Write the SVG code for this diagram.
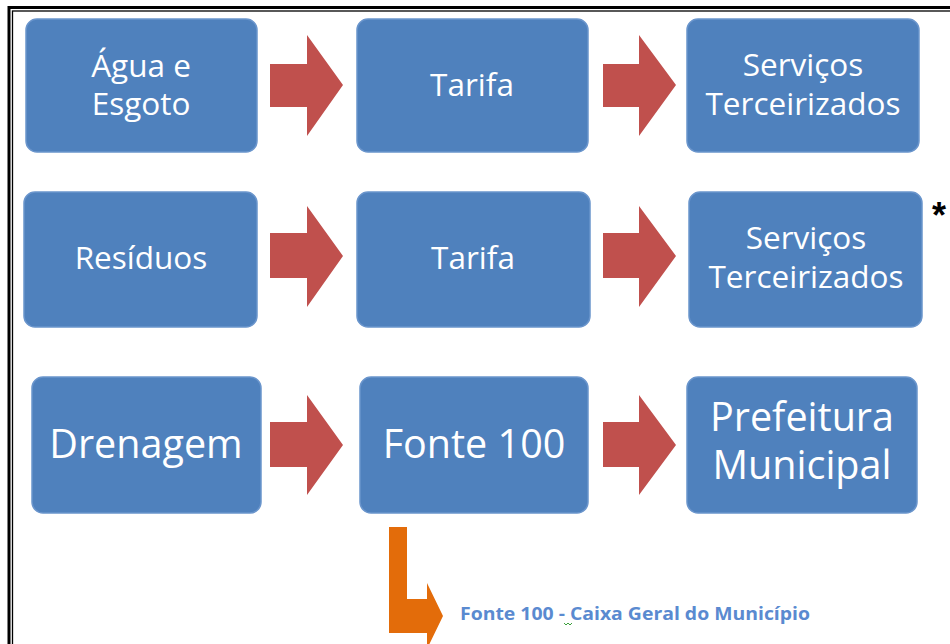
<svg xmlns="http://www.w3.org/2000/svg" width="950" height="644" viewBox="0 0 950 644">
<style>
.box{fill:#4F81BD;stroke:#6A95CC;stroke-width:1.5}
.t{font-family:"Open Sans","Liberation Sans",sans-serif;fill:#FFFFFF;text-anchor:middle}
.m{font-size:31.5px}
.l{font-size:39.5px}
.red{fill:#C0504D}
</style>
<rect x="0" y="0" width="950" height="644" fill="#FFFFFF"/>
<rect x="9" y="7.5" width="960" height="660" fill="none" stroke="#000" stroke-width="3"/>
<rect x="12.5" y="11" width="960" height="660" fill="none" stroke="#000" stroke-width="1.3"/>
<g id="connectors">
<polygon class="red" points="270,64 307,64 307,35 343,85 307,136 307,107 270,107"/>
<polygon class="red" points="603,64 639,64 639,35 676,85 639,136 639,107 603,107"/>
<polygon class="red" points="270,233 307,233 307,206 343,256 307,307 307,278 270,278"/>
<polygon class="red" points="603,233 639,233 639,206 676,256 639,307 639,278 603,278"/>
<polygon class="red" points="270,422 307,422 307,395 343,445 307,495 307,467 270,467"/>
<polygon class="red" points="603,422 639,422 639,395 676,445 639,495 639,467 603,467"/>
<polygon fill="#E36C0A" points="389,527 407,527 407,599 427,599 427,583 443,616 427,649 427,633 389,633"/>
</g>
<g id="agua">
<rect class="box" x="26" y="19" width="231" height="133" rx="11"/>
<text class="t m" x="141" y="77">Água e</text>
<text class="t m" x="141" y="115">Esgoto</text>
</g>
<g id="tarifa1">
<rect class="box" x="357" y="19" width="231" height="133" rx="11"/>
<text class="t m" x="472" y="96">Tarifa</text>
</g>
<g id="servicos1">
<rect class="box" x="687" y="19" width="232" height="133" rx="11"/>
<text class="t m" x="803" y="76">Serviços</text>
<text class="t m" x="803" y="115">Terceirizados</text>
</g>
<g id="residuos">
<rect class="box" x="24" y="192" width="233" height="135" rx="11"/>
<text class="t m" x="141" y="269">Resíduos</text>
</g>
<g id="tarifa2">
<rect class="box" x="357" y="192" width="233" height="135" rx="11"/>
<text class="t m" x="473" y="269">Tarifa</text>
</g>
<g id="servicos2">
<rect class="box" x="689" y="192" width="233" height="135" rx="11"/>
<text class="t m" x="806" y="249">Serviços</text>
<text class="t m" x="806" y="288">Terceirizados</text>
</g>
<g id="asterisk">
<text x="939" y="228" font-family="'Liberation Sans',sans-serif" font-size="36" font-weight="bold" fill="#000" text-anchor="middle">*</text>
</g>
<g id="drenagem">
<rect class="box" x="32" y="377" width="229" height="136" rx="11"/>
<text class="t l" x="146" y="458">Drenagem</text>
</g>
<g id="fonte100">
<rect class="box" x="360" y="377" width="228" height="136" rx="11"/>
<text class="t l" x="474" y="458">Fonte 100</text>
</g>
<g id="prefeitura">
<rect class="box" x="687" y="377" width="230" height="136" rx="11"/>
<text class="t l" x="802" y="431">Prefeitura</text>
<text class="t l" x="802" y="479">Municipal</text>
</g>
<g id="nota">
<text x="460" y="620" font-family="'Open Sans','Liberation Sans',sans-serif" font-size="18" font-weight="bold" fill="#5A8AD0" textLength="350" lengthAdjust="spacingAndGlyphs">Fonte 100 -  Caixa Geral do Município</text>
<path d="M564,623 l2,2 l2,-2 l2,2 l2,-2" fill="none" stroke="#3CA03C" stroke-width="1"/>
</g>
</svg>
